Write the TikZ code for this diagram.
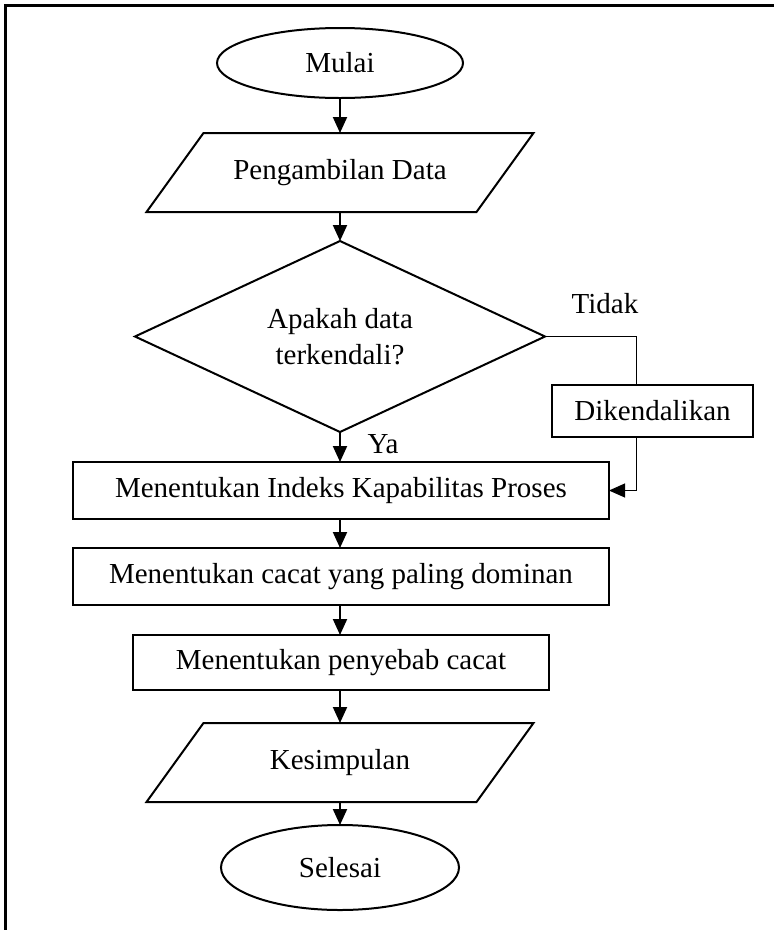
\documentclass[tikz,border=0pt]{standalone}
\usepackage{fontspec}
\setmainfont{Liberation Serif}
\usetikzlibrary{shapes.geometric,arrows.meta}
\begin{document}
\begin{tikzpicture}[x=1pt,y=-1pt,
  every node/.style={font=\fontsize{29}{36}\selectfont, outer sep=0pt, inner sep=0pt},
  term/.style={ellipse, draw, line width=2pt},
  proc/.style={rectangle, draw, line width=2pt},
  dec/.style={diamond, draw, line width=2pt, align=center, aspect=2.15, minimum width=410pt, minimum height=191pt},
  iobox/.style={rectangle, minimum width=330pt, minimum height=79pt},
  ioshape/.style={line width=2pt, line join=miter},
  arr/.style={line width=2pt, -{Triangle[length=16pt,width=14pt]}},
  thinline/.style={line width=1pt},
  thinarr/.style={line width=1pt, -{Triangle[length=16pt,width=14pt]}}
]
\useasboundingbox (0,0) rectangle (774,930);
% frame
\draw[line width=2.5pt] (5.5,931) -- (5.5,5.5) -- (775,5.5);

\node[term, minimum width=246pt, minimum height=70pt] (mulai) at (340,63) {Mulai};
\node[iobox] (pd) at (340,172.5) {Pengambilan Data};
\draw[ioshape] ([xshift=28.5pt]pd.north west) -- ([xshift=28.5pt]pd.north east)
  -- ([xshift=-28.5pt]pd.south east) -- ([xshift=-28.5pt]pd.south west) -- cycle;
\node[dec] (dec) at (340,336.5) {Apakah data\\terkendali?};
\node[proc, minimum width=201pt, minimum height=52pt] (dik) at (652.5,411) {Dikendalikan};
\node[proc, minimum width=536pt, minimum height=57pt] (b1) at (341,490.5) {Menentukan Indeks Kapabilitas Proses};
\node[proc, minimum width=536pt, minimum height=57pt] (b2) at (341,576.5) {Menentukan cacat yang paling dominan};
\node[proc, minimum width=416pt, minimum height=55pt] (b3) at (341,662.5) {Menentukan penyebab cacat};
\node[iobox] (ks) at (340,762.5) {Kesimpulan};
\draw[ioshape] ([xshift=28.5pt]ks.north west) -- ([xshift=28.5pt]ks.north east)
  -- ([xshift=-28.5pt]ks.south east) -- ([xshift=-28.5pt]ks.south west) -- cycle;
\node[term, minimum width=238pt, minimum height=85pt] (selesai) at (340,867.5) {Selesai};

\node[anchor=base] (tidak) at (605,313) {Tidak};
\node[anchor=base] (ya) at (383,453) {Ya};

\coordinate (tk) at (636,336.5);
\coordinate (tb) at (636,490.5);

\draw[arr] (mulai.south) -- (pd.north);
\draw[arr] (pd.south) -- (dec.north);
\draw[arr] (dec.south) -- (b1.north -| dec.south);
\draw[arr] (b1.south -| dec.south) -- (b2.north -| dec.south);
\draw[arr] (b2.south -| dec.south) -- (b3.north -| dec.south);
\draw[arr] (b3.south -| dec.south) -- (ks.north);
\draw[arr] (ks.south) -- (selesai.north);

\draw[thinline] (dec.east) -- (tk) -- (dik.north -| tk);
\draw[thinline] (dik.south -| tk) -- (tb);
\draw[thinarr] (tb) -- (b1.east);
\end{tikzpicture}
\end{document}
